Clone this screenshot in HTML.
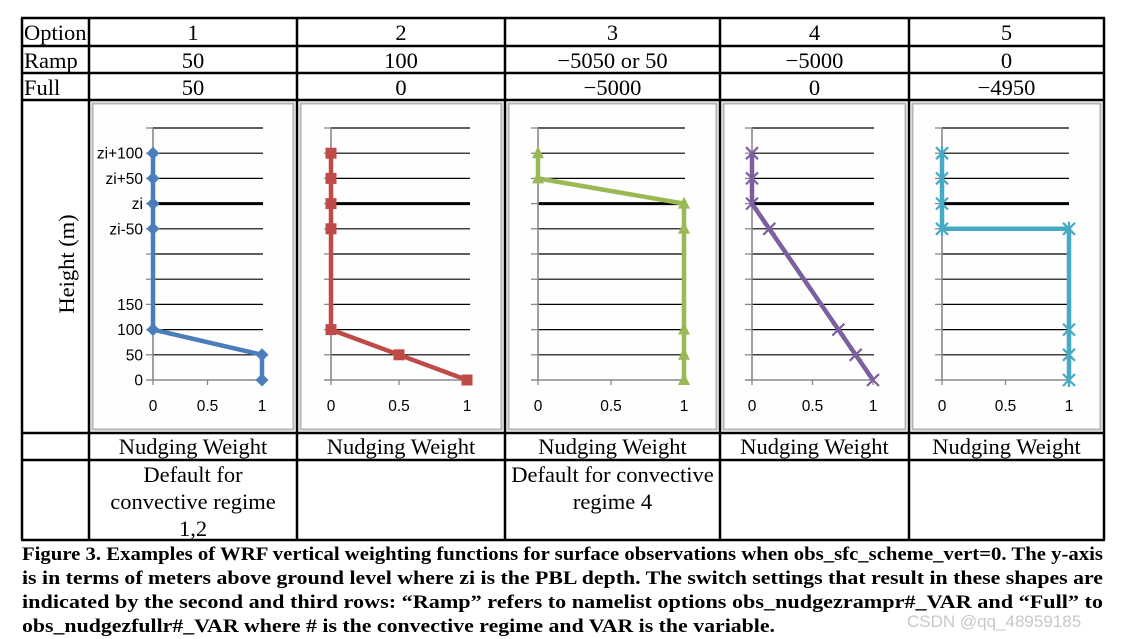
<!DOCTYPE html>
<html><head><meta charset="utf-8">
<style>
html,body{margin:0;padding:0;background:#fff;}
svg{display:block;}
.tb{font-family:"Liberation Serif",serif;font-size:22.5px;fill:#000;}
.ax{font-family:"Liberation Sans",sans-serif;font-size:15.5px;fill:#000;}
.cap{font-family:"Liberation Serif",serif;font-size:19px;font-weight:bold;fill:#000;}
</style></head>
<body>
<svg id="fig" width="1131" height="639" viewBox="0 0 1131 639" xmlns="http://www.w3.org/2000/svg">
<g id="table"></g>
<g id="charts"></g>
<g id="caption">
<text class="cap" x="22" y="560" textLength="1081" lengthAdjust="spacingAndGlyphs">Figure 3. Examples of WRF vertical weighting functions for surface observations when obs_sfc_scheme_vert=0.  The y-axis</text>
<text class="cap" x="22" y="584" textLength="1081" lengthAdjust="spacingAndGlyphs">is in terms of meters above ground level where zi is the PBL depth.  The switch settings that result in these shapes are</text>
<text class="cap" x="22" y="608" textLength="1081" lengthAdjust="spacingAndGlyphs">indicated by the second and third rows: “Ramp” refers to namelist options obs_nudgezrampr#_VAR and “Full” to</text>
<text class="cap" x="22" y="632" textLength="753" lengthAdjust="spacingAndGlyphs">obs_nudgezfullr#_VAR where # is the convective regime and VAR is the variable.</text>
</g>
<text x="907" y="627" style="font-family:'Liberation Sans',sans-serif;font-size:17px;fill:#c8c8c8">CSDN @qq_48959185</text>
</svg>
<script>
// ---- data ----
const options = ["1","2","3","4","5"];
const rampVals = ["50","100","−5050 or 50","−5000","0"];
const fullVals = ["50","0","−5000","0","−4950"];
const notes = [["Default for","convective regime","1,2"],[],["Default for convective","regime 4"],[],[]];
const yTickLabels = ["0","50","100","150","","","zi-50","zi","zi+50","zi+100",""];
const xTickLabels = ["0","0.5","1"];
// series: level index (0..10) and weight
const levels1 = [0,1,2,6,7,8,9];
const weights1 = [1,1,0,0,0,0,0];
const levels2 = [0,1,2,6,7,8,9];
const weights2 = [1,0.5,0,0,0,0,0];
const levels3 = [0,1,2,6,7,8,9];
const weights3 = [1,1,1,1,1,0,0];
const levels4 = [0,1,2,6,7,8,9];
const weights4 = [1,0.857,0.714,0.143,0,0,0];
const levels5 = [0,1,2,6,6,7,8,9];
const weights5 = [1,1,1,1,0,0,0,0];

const NS="http://www.w3.org/2000/svg";
function mk(tag, attrs, parent, txt){
  const e=document.createElementNS(NS,tag);
  for(const k in attrs) e.setAttribute(k,attrs[k]);
  if(txt!==undefined) e.textContent=txt;
  parent.appendChild(e); return e;
}
const cols=[22,89,297,505,720,909,1104];
const rows=[18,46,73,100,433,460,540];
const tbl=document.getElementById('table');
rows.forEach(y=>{const l=mk('line',{x1:cols[0]-1,x2:cols[6]+1,y1:y,y2:y,stroke:'#000','stroke-width':2.5},tbl);

});
cols.forEach(x=>{const l=mk('line',{x1:x,x2:x,y1:rows[0],y2:rows[6],stroke:'#000','stroke-width':2.5},tbl);

});
const rowLabels=["Option","Ramp","Full"];
const rowData=[options,rampVals,fullVals];
for(let r=0;r<3;r++){
  const t=mk('text',{class:'tb',x:24,y:rows[r]+22},tbl,rowLabels[r]);
  
  
  for(let c=0;c<5;c++){
    const cx=(cols[c+1]+cols[c+2])/2;
    const v=mk('text',{class:'tb',x:cx,y:rows[r]+22,'text-anchor':'middle'},tbl,rowData[r][c]);
    
    
  }
}
for(let c=0;c<5;c++){
  const cx=(cols[c+1]+cols[c+2])/2;
  const t=mk('text',{class:'tb',x:cx,y:454,'text-anchor':'middle'},tbl,"Nudging Weight");
  
  
  notes[c].forEach((ln,i)=>{
    const n=mk('text',{class:'tb',x:cx,y:482+i*27,'text-anchor':'middle'},tbl,ln);
    
    
  });
}
const yt=mk('text',{class:'tb',x:0,y:0,'text-anchor':'middle',transform:'translate(74,264) rotate(-90)'},tbl,"Height (m)");



const charts=document.getElementById('charts');
const panels=[
 {x0:153,x1:262,gend:263,lv:levels1,w:weights1,color:'#4a7ebb',mk:'diamond',labels:true},
 {x0:331,x1:467,gend:470,lv:levels2,w:weights2,color:'#be4b48',mk:'square'},
 {x0:538,x1:684,gend:685,lv:levels3,w:weights3,color:'#98b954',mk:'triangle'},
 {x0:752,x1:873,gend:874,lv:levels4,w:weights4,color:'#7d5fa0',mk:'x'},
 {x0:942,x1:1069,gend:1069,lv:levels5,w:weights5,color:'#46aac5',mk:'star'}
];
const Y0=380, STEP=25.2;
function yS(l){return Y0-l*STEP;}
panels.forEach((p,pi)=>{
  const g=mk('g',{},charts);
  
  
  const bg=mk('rect',{x:cols[pi+1]+3.5,y:rows[3]+3.5,width:cols[pi+2]-cols[pi+1]-7,height:rows[4]-rows[3]-7,fill:'#fefefe',stroke:'#b4b4b4','stroke-width':2},g);
  
  
  const xS=v=>p.x0+v*(p.x1-p.x0);
  for(let l=1;l<=10;l++){
    const gl=mk('line',{x1:p.x0,x2:p.gend,y1:yS(l),y2:yS(l),stroke:'#000','stroke-width':l===7?3:1.2},g);
    
    
    const tk=mk('line',{x1:p.x0-7,x2:p.x0,y1:yS(l),y2:yS(l),stroke:'#888','stroke-width':1.3},g);
    
    
  }
  const ya=mk('line',{x1:p.x0,x2:p.x0,y1:yS(10),y2:Y0,stroke:'#888','stroke-width':1.6},g);
  
  
  const xa=mk('line',{x1:p.x0-7,x2:p.x1,y1:Y0,y2:Y0,stroke:'#888','stroke-width':1.6},g);
  
  
  xTickLabels.forEach(t=>{
    const v=parseFloat(t);
    const tk=mk('line',{x1:xS(v),x2:xS(v),y1:Y0,y2:Y0+5,stroke:'#888','stroke-width':1.3},g);
    
    
    const tl=mk('text',{class:'ax',x:xS(v),y:Y0+31,'text-anchor':'middle'},g,t);
    
    
  });
  if(p.labels){
    yTickLabels.forEach((t,l)=>{
      if(!t) return;
      const tl=mk('text',{class:'ax',x:p.x0-10,y:yS(l)+5.5,'text-anchor':'end'},g,t);
      
      
    });
  }
  const pts=p.lv.map((l,i)=>[xS(p.w[i]),yS(l)]);
  const line=mk('polyline',{points:pts.map(q=>q.join(',')).join(' '),fill:'none',stroke:p.color,'stroke-width':4.5,'stroke-linejoin':'round'},g);
  
  
  pts.forEach(([x,y])=>{
    let m;
    if(p.mk==='diamond') m=mk('polygon',{points:`${x},${y-6.5} ${x+6.5},${y} ${x},${y+6.5} ${x-6.5},${y}`,fill:p.color},g);
    else if(p.mk==='square') m=mk('rect',{x:x-5.5,y:y-5.5,width:11,height:11,fill:p.color},g);
    else if(p.mk==='triangle') m=mk('polygon',{points:`${x},${y-7} ${x+6},${y+5} ${x-6},${y+5}`,fill:p.color},g);
    else if(p.mk==='x') m=mk('path',{d:`M${x-6},${y-6}L${x+6},${y+6}M${x-6},${y+6}L${x+6},${y-6}`,stroke:p.color,'stroke-width':2.2},g);
    else m=mk('path',{d:`M${x-6},${y-6}L${x+6},${y+6}M${x-6},${y+6}L${x+6},${y-6}M${x},${y-7}L${x},${y+7}`,stroke:p.color,'stroke-width':2.2},g);
    
    
  });
});
</script>
</body></html>
